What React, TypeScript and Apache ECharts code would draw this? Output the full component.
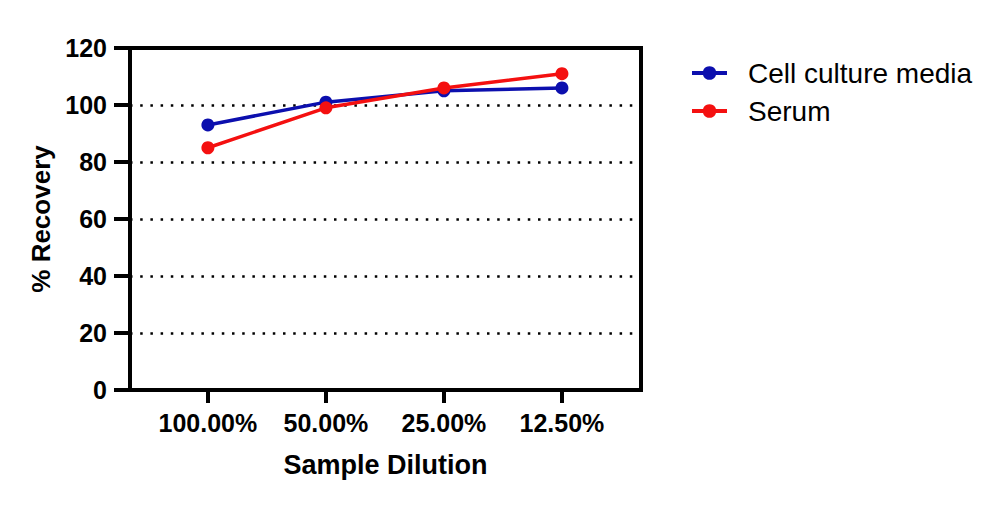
import React, { useEffect, useRef } from "react";
import * as echarts from "echarts";

const categories = ["100.00%", "50.00%", "25.00%", "12.50%"];
const cellCultureMedia = [93, 101, 105, 106];
const serum = [85, 99, 106, 111];
const categoryPositions = [0, 1, 2, 3];

export default function App() {
  const ref = useRef<HTMLDivElement>(null);
  useEffect(() => {
    const chart = echarts.init(ref.current!, null, { renderer: "svg" });
    const font = "Liberation Sans, Arial, Helvetica, sans-serif";
    chart.setOption({
      animation: false,
      backgroundColor: "#ffffff",
      grid: {
        left: 130,
        top: 48,
        width: 511,
        height: 342,
        show: true,
        borderColor: "#000",
        borderWidth: 4,
        backgroundColor: "transparent",
      },
      legend: {
        left: 690,
        top: 59,
        padding: 0,
        orient: "vertical",
        itemGap: 10,
        itemWidth: 35,
        itemHeight: 17,
        lineStyle: { width: 4 },
        textStyle: {
          fontFamily: font,
          fontSize: 28,
          color: "#000",
          padding: [0, 0, 0, 16],
        },
        data: ["Cell culture media", "Serum"],
      },
      xAxis: {
        type: "value",
        min: -0.66,
        max: 3.67,
        name: "Sample Dilution",
        nameLocation: "middle",
        nameGap: 61,
        nameTextStyle: {
          fontFamily: font,
          fontSize: 27,
          fontWeight: "bold",
          color: "#000",
        },
        axisLine: { show: true, onZero: false, lineStyle: { color: "#000", width: 4 } },
        axisTick: {
          show: true,
          length: 13,
          lineStyle: { color: "#000", width: 4 },
          customValues: categoryPositions,
        },
        axisLabel: {
          customValues: categoryPositions,
          formatter: (v: number) => categories[Math.round(v)] ?? "",
          margin: 20,
          fontFamily: font,
          fontSize: 25,
          fontWeight: "bold",
          color: "#000",
        },
        splitLine: { show: false },
      },
      yAxis: {
        type: "value",
        min: 0,
        max: 120,
        interval: 20,
        name: "% Recovery",
        nameLocation: "middle",
        nameGap: 74,
        nameTextStyle: {
          fontFamily: font,
          fontSize: 26,
          fontWeight: "bold",
          color: "#000",
        },
        axisLine: { show: true, onZero: false, lineStyle: { color: "#000", width: 4 } },
        axisTick: {
          show: true,
          length: 16,
          lineStyle: { color: "#000", width: 4 },
        },
        axisLabel: {
          margin: 23,
          fontFamily: font,
          fontSize: 25,
          fontWeight: "bold",
          color: "#000",
        },
        splitLine: {
          show: true,
          showMinLine: false,
          showMaxLine: false,
          lineStyle: { color: "#000", width: 2.5, type: [2.5, 7.7] },
        },
      },
      series: [
        {
          name: "Cell culture media",
          type: "line",
          data: cellCultureMedia.map((v, i) => [categoryPositions[i], v]),
          symbol: "circle",
          symbolSize: 13,
          itemStyle: { color: "#0c0fae" },
          lineStyle: { color: "#0c0fae", width: 3.5 },
          z: 3,
        },
        {
          name: "Serum",
          type: "line",
          data: serum.map((v, i) => [categoryPositions[i], v]),
          symbol: "circle",
          symbolSize: 13,
          itemStyle: { color: "#f41010" },
          lineStyle: { color: "#f41010", width: 3.5 },
          z: 4,
        },
      ],
    });
    return () => chart.dispose();
  }, []);
  return (
    <div
      ref={ref}
      style={{ position: "fixed", left: 0, top: 0, width: 1002, height: 507 }}
    />
  );
}
